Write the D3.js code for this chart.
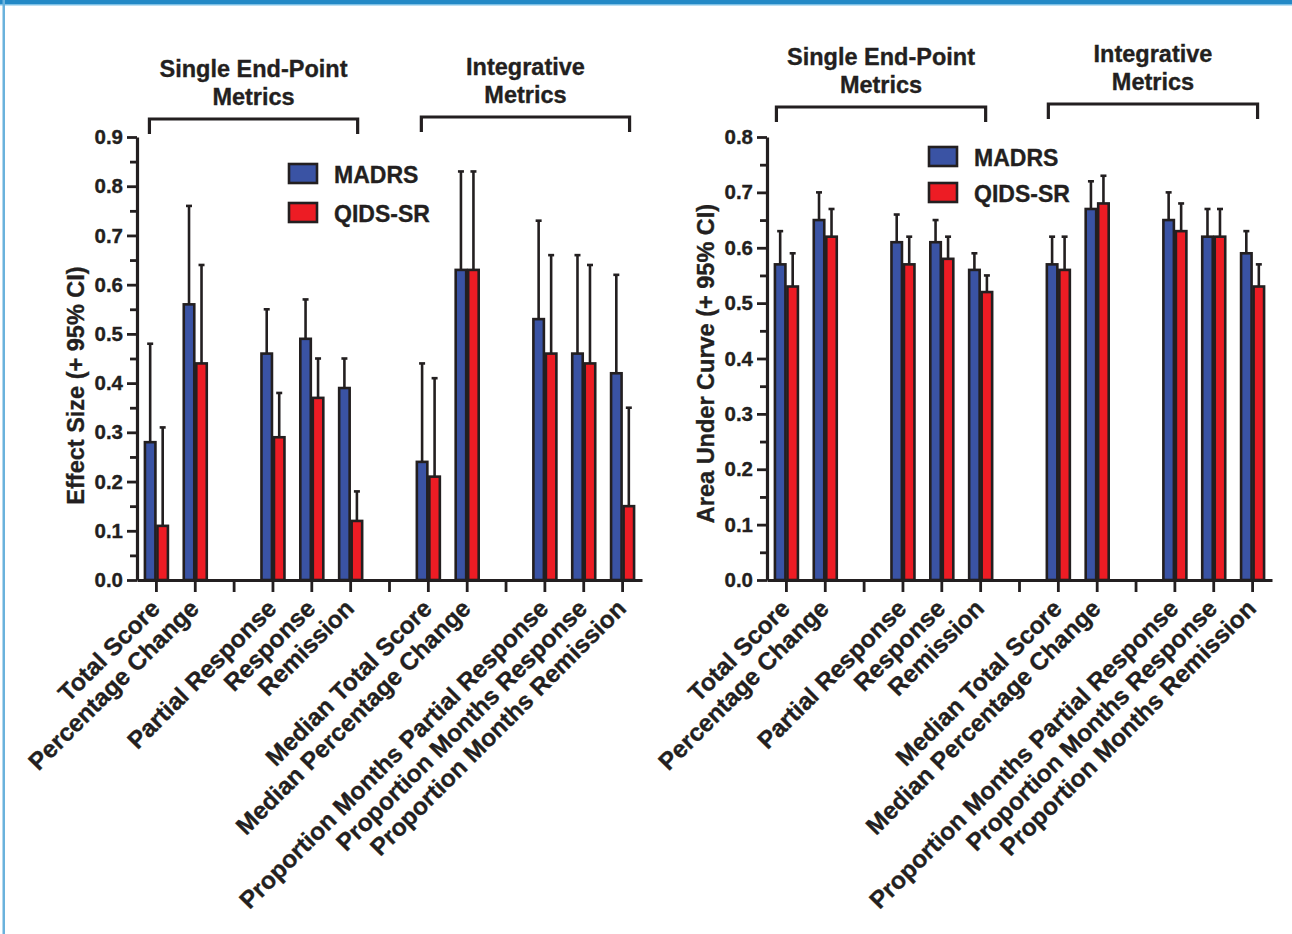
<!DOCTYPE html>
<html>
<head>
<meta charset="utf-8">
<script src="https://cdn.jsdelivr.net/npm/d3@7/dist/d3.min.js"></script>
<style>
  html, body { margin: 0; padding: 0; background: #ffffff; }
  svg { display: block; }
  text { font-family: "Liberation Sans", Arial, Helvetica, sans-serif; font-weight: bold; fill: #231f20; stroke: #231f20; stroke-width: 0.35px; }
</style>
</head>
<body>
<svg id="chart" width="1292" height="934"></svg>
<script>
// Outcome metrics along the x axis; null marks an empty spacer slot between groups
const categories = [
  "Total Score", "Percentage Change", null,
  "Partial Response", "Response", "Remission", null,
  "Median Total Score", "Median Percentage Change", null,
  "Proportion Months Partial Response", "Proportion Months Response", "Proportion Months Remission"
];
const seriesNames = ["MADRS", "QIDS-SR"];

// Effect sizes with upper 95% CI bounds
const esMadrs      = [0.28, 0.56, null, 0.46, 0.49, 0.39, null, 0.24, 0.63, null, 0.53, 0.46, 0.42];
const esMadrsUpper = [0.48, 0.76, null, 0.55, 0.57, 0.45, null, 0.44, 0.83, null, 0.73, 0.66, 0.62];
const esQids       = [0.11, 0.44, null, 0.29, 0.37, 0.12, null, 0.21, 0.63, null, 0.46, 0.44, 0.15];
const esQidsUpper  = [0.31, 0.64, null, 0.38, 0.45, 0.18, null, 0.41, 0.83, null, 0.66, 0.64, 0.35];

// Area under the ROC curve with upper 95% CI bounds
const aucMadrs      = [0.57, 0.65, null, 0.61, 0.61, 0.56, null, 0.57, 0.67, null, 0.65, 0.62, 0.59];
const aucMadrsUpper = [0.63, 0.70, null, 0.66, 0.65, 0.59, null, 0.62, 0.72, null, 0.70, 0.67, 0.63];
const aucQids       = [0.53, 0.62, null, 0.57, 0.58, 0.52, null, 0.56, 0.68, null, 0.63, 0.62, 0.53];
const aucQidsUpper  = [0.59, 0.67, null, 0.62, 0.62, 0.55, null, 0.62, 0.73, null, 0.68, 0.67, 0.57];

// Bracketed metric groups above the bars
const groupTitles = [["Single End-Point", "Metrics"], ["Integrative", "Metrics"]];
const groupSpans  = [[0, 5], [7, 12]];

// Axis ticks
const esTicks  = [0, 0.1, 0.2, 0.3, 0.4, 0.5, 0.6, 0.7, 0.8, 0.9];
const aucTicks = [0, 0.1, 0.2, 0.3, 0.4, 0.5, 0.6, 0.7, 0.8];

const INK = "#231f20";
const colors = { "MADRS": "#3a53a4", "QIDS-SR": "#ed1c24" };

const svg = d3.select("#chart");

// Page frame: blue rule on top, light blue rule down the left side
svg.append("rect").attr("x", 0).attr("y", 0).attr("width", 1292).attr("height", 4).attr("fill", "#2389c6");
svg.append("rect").attr("x", 0).attr("y", 4).attr("width", 1292).attr("height", 1.5).attr("fill", "#7cc0e6");
svg.append("rect").attr("x", 2.5).attr("y", 0).attr("width", 2.5).attr("height", 934).attr("fill", "#6ab2dc");

function drawPanel(cfg) {
  const g = svg.append("g");
  const idx = d3.range(categories.length);

  const x = d3.scaleBand().domain(idx).range([cfg.left, cfg.right]).padding(0);
  const xs = d3.scaleBand().domain(seriesNames).range([-12.5, 12.5]).padding(0);
  const y = d3.scaleLinear().domain([0, cfg.max]).range([580, 137]);
  const cx = i => x(i) + x.bandwidth() / 2;

  // Minor y ticks every 0.05
  const minor = d3.range(1, Math.round(cfg.max / 0.05), 2).map(k => k * 0.05);
  const yMinor = g.append("g")
    .attr("transform", `translate(${cfg.left},0)`)
    .call(d3.axisLeft(y).tickValues(minor).tickSize(7).tickSizeOuter(0).tickFormat(""));
  yMinor.select(".domain").remove();
  yMinor.selectAll("line").attr("stroke", INK).attr("stroke-width", 2.8);

  // Major y ticks with labels
  const yAxis = g.append("g")
    .attr("transform", `translate(${cfg.left},0)`)
    .call(d3.axisLeft(y).tickValues(cfg.ticks).tickSize(10).tickSizeOuter(0).tickPadding(4).tickFormat(d3.format(".1f")));
  yAxis.select(".domain").attr("stroke", INK).attr("stroke-width", 3.2);
  yAxis.selectAll("line").attr("stroke", INK).attr("stroke-width", 2.8);
  yAxis.selectAll("text").style("font-size", "20.5px").attr("fill", INK)
    .style("font-family", "'Liberation Sans', Arial, sans-serif").style("font-weight", "bold");

  // x axis with a tick at every slot
  const xAxis = g.append("g")
    .attr("transform", "translate(0,580)")
    .call(d3.axisBottom(x).tickSize(12).tickSizeOuter(0).tickFormat(""));
  xAxis.select(".domain").attr("stroke", INK).attr("stroke-width", 3.2);
  xAxis.selectAll("line").attr("stroke", INK).attr("stroke-width", 2.8);

  // Rotated category labels
  g.append("g").selectAll("text")
    .data(idx.filter(i => categories[i] !== null))
    .join("text")
    .attr("transform", i => `translate(${cx(i) + 5},${610}) rotate(-45)`)
    .attr("text-anchor", "end")
    .style("font-size", "24.5px")
    .text(i => categories[i]);

  // Bars and upper CI whiskers for each series
  cfg.series.forEach(s => {
    const items = idx.filter(i => s.values[i] !== null);
    const bx = i => cx(i) + xs(s.name);
    const bw = xs.bandwidth();

    g.append("g").selectAll("line")
      .data(items).join("line")
      .attr("x1", i => bx(i) + bw / 2).attr("x2", i => bx(i) + bw / 2)
      .attr("y1", i => y(s.values[i])).attr("y2", i => y(s.upper[i]))
      .attr("stroke", INK).attr("stroke-width", 2.6);
    g.append("g").selectAll("line")
      .data(items).join("line")
      .attr("x1", i => bx(i) + bw / 2 - 3).attr("x2", i => bx(i) + bw / 2 + 3)
      .attr("y1", i => y(s.upper[i])).attr("y2", i => y(s.upper[i]))
      .attr("stroke", INK).attr("stroke-width", 2.6);

    g.append("g").selectAll("rect")
      .data(items).join("rect")
      .attr("x", i => bx(i) + 1)
      .attr("width", bw - 2)
      .attr("y", i => y(s.values[i]))
      .attr("height", i => y(0) - y(s.values[i]))
      .attr("fill", colors[s.name])
      .attr("stroke", INK).attr("stroke-width", 2.6);
  });

  // Group brackets with two-line titles
  groupSpans.forEach((span, k) => {
    const x0 = cx(span[0]) + cfg.bracketPad[0];
    const x1 = cx(span[1]) + cfg.bracketPad[1];
    const base = cfg.titleY[k];
    const by = base + 42;
    g.append("path")
      .attr("d", `M${x0},${by + 15}V${by}H${x1}V${by + 15}`)
      .attr("fill", "none").attr("stroke", INK).attr("stroke-width", 3.2);
    groupTitles[k].forEach((line, j) => {
      g.append("text")
        .attr("x", (x0 + x1) / 2).attr("y", base + j * 28)
        .attr("text-anchor", "middle")
        .style("font-size", "23.5px")
        .text(line);
    });
  });

  // Legend
  seriesNames.forEach((name, j) => {
    const ly = cfg.legend[1] + j * cfg.legendGap;
    g.append("rect")
      .attr("x", cfg.legend[0]).attr("y", ly)
      .attr("width", 28).attr("height", 19)
      .attr("fill", colors[name]).attr("stroke", INK).attr("stroke-width", 2.6);
    g.append("text")
      .attr("x", cfg.legend[0] + 45).attr("y", ly + 19)
      .style("font-size", "23px")
      .text(name);
  });

  // y axis title
  g.append("text")
    .attr("transform", `translate(${cfg.titleX},${(y(0) + y(cfg.max)) / 2 + cfg.titleShift}) rotate(-90)`)
    .attr("text-anchor", "middle")
    .style("font-size", "23.5px")
    .text(cfg.yTitle);
}

drawPanel({
  left: 137, right: 642, max: 0.9, ticks: esTicks,
  series: [
    { name: "MADRS", values: esMadrs, upper: esMadrsUpper },
    { name: "QIDS-SR", values: esQids, upper: esQidsUpper }
  ],
  titleY: [77, 75], bracketPad: [-7, 7],
  legend: [289, 164], legendGap: 39,
  titleX: 84, titleShift: 27, yTitle: "Effect Size (+ 95% CI)"
});

drawPanel({
  left: 767, right: 1272, max: 0.8, ticks: aucTicks,
  series: [
    { name: "MADRS", values: aucMadrs, upper: aucMadrsUpper },
    { name: "QIDS-SR", values: aucQids, upper: aucQidsUpper }
  ],
  titleY: [65, 62], bracketPad: [-10, 5],
  legend: [929, 147], legendGap: 36,
  titleX: 714, titleShift: 5, yTitle: "Area Under Curve (+ 95% CI)"
});
</script>
</body>
</html>
